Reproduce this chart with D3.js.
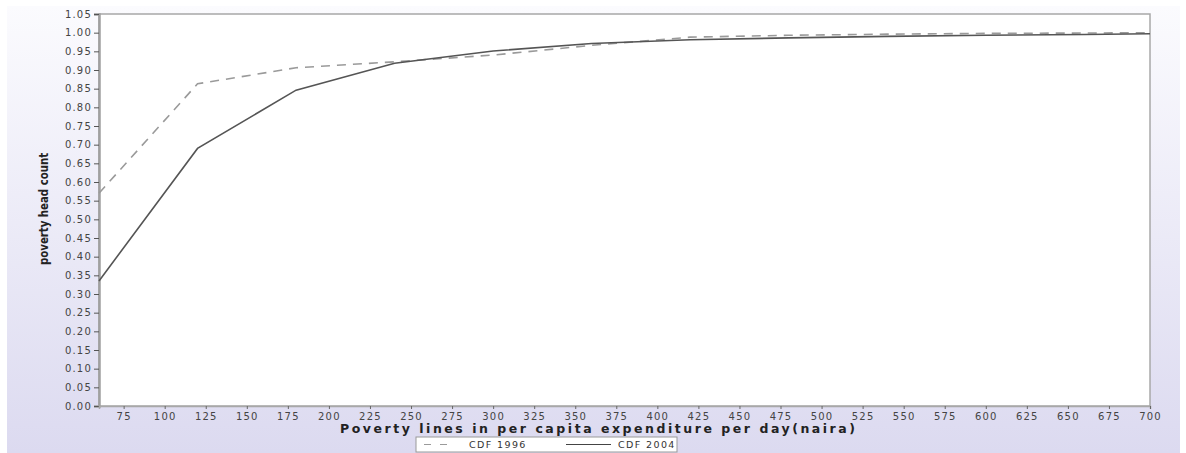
<!DOCTYPE html>
<html><head><meta charset="utf-8">
<script src="https://cdn.jsdelivr.net/npm/d3@7"></script>
<style>body{margin:0;background:#fff}svg{display:block}</style>
</head><body>
<svg id="c" width="1186" height="453"></svg>
<script>
const povertyLines = [60, 120, 180, 240, 300, 360, 420, 480, 540, 600, 660, 700];
const cdf1996 = [0.570, 0.863, 0.906, 0.922, 0.940, 0.966, 0.988, 0.993, 0.996, 0.998, 0.999, 1.000];
const cdf2004 = [0.335, 0.690, 0.846, 0.918, 0.951, 0.971, 0.981, 0.986, 0.990, 0.993, 0.995, 0.997];
const xTicks = d3.range(75, 701, 25);
const yTicks = d3.range(0, 22).map(i => +(i * 0.05).toFixed(2));
const seriesNames = ["CDF 1996", "CDF 2004"];

const svg = d3.select("#c");
const defs = svg.append("defs");
const g = defs.append("linearGradient").attr("id", "bg").attr("x1", 0).attr("y1", 0).attr("x2", 0).attr("y2", 1);
g.append("stop").attr("offset", "0%").attr("stop-color", "#fbfbfe");
g.append("stop").attr("offset", "100%").attr("stop-color", "#dcdaf0");
svg.append("rect").attr("x", 7).attr("y", 6).attr("width", 1173).attr("height", 447).attr("fill", "url(#bg)");

const L = 99, R = 1150, T = 14, B = 406;
const x = d3.scaleLinear().domain([60, 700]).range([L, R]);
const y = d3.scaleLinear().domain([0, 1.05]).range([B, T]);

svg.append("rect").attr("x", L).attr("y", T).attr("width", R - L).attr("height", B - T)
  .attr("fill", "#fff").attr("stroke", "#a8a8a8").attr("stroke-width", 1.5);

const tickFont = sel => sel.attr("fill", "#444").style("font-family", "DejaVu Sans")
  .style("font-size", "10px").style("letter-spacing", "1.2px");

const yAxis = svg.append("g").attr("transform", `translate(${L},0)`)
  .call(d3.axisLeft(y).tickValues(yTicks).tickFormat(d3.format(".2f")).tickSize(5).tickPadding(2));
yAxis.select(".domain").attr("stroke", "#a0a0a0").attr("stroke-width", 2.5);
yAxis.selectAll(".tick line").attr("stroke", "#555");
yAxis.selectAll("text").call(tickFont);

const xAxis = svg.append("g").attr("transform", `translate(0,${B})`)
  .call(d3.axisBottom(x).tickValues(xTicks).tickSize(3).tickPadding(4));
xAxis.select(".domain").attr("stroke", "#a8a8a8").attr("stroke-width", 1.5);
xAxis.selectAll(".tick line").attr("stroke", "#666");
xAxis.selectAll("text").call(tickFont);

const line = d3.line().x((d, i) => x(povertyLines[i])).y(d => y(d));
svg.append("path").datum(cdf1996).attr("d", line).attr("fill", "none")
  .attr("stroke", "#9a9a9a").attr("stroke-width", 1.6).attr("stroke-dasharray", "9,7");
svg.append("path").datum(cdf2004).attr("d", line).attr("fill", "none")
  .attr("stroke", "#555").attr("stroke-width", 1.6);

svg.append("text").attr("x", 340).attr("y", 433).attr("textLength", 515).attr("lengthAdjust", "spacing")
  .style("font-family", "DejaVu Sans").style("font-weight", "bold").style("font-size", "12.5px").attr("fill", "#222")
  .text("Poverty lines in per capita expenditure per day(naira)");

svg.append("text").attr("transform", "translate(48,209) rotate(-90)").attr("text-anchor", "middle")
  .attr("textLength", 112).attr("lengthAdjust", "spacingAndGlyphs")
  .style("font-family", "DejaVu Sans Condensed").style("font-weight", "bold").style("font-size", "12px").attr("fill", "#222")
  .text("poverty head count");

const lg = svg.append("g");
lg.append("rect").attr("x", 416).attr("y", 437).attr("width", 261).attr("height", 15)
  .attr("fill", "#fff").attr("stroke", "#999");
lg.append("line").attr("x1", 424).attr("x2", 454).attr("y1", 444.5).attr("y2", 444.5)
  .attr("stroke", "#9a9a9a").attr("stroke-width", 1.2).attr("stroke-dasharray", "7,9");
lg.append("text").attr("x", 469).attr("y", 448).text(seriesNames[0])
  .style("font-family", "DejaVu Sans").style("font-size", "9.5px").style("letter-spacing", "1.4px").attr("fill", "#333");
lg.append("line").attr("x1", 566).attr("x2", 611).attr("y1", 444.5).attr("y2", 444.5)
  .attr("stroke", "#444").attr("stroke-width", 1.2);
lg.append("text").attr("x", 618).attr("y", 448).text(seriesNames[1])
  .style("font-family", "DejaVu Sans").style("font-size", "9.5px").style("letter-spacing", "1.4px").attr("fill", "#333");
</script>
</body></html>
